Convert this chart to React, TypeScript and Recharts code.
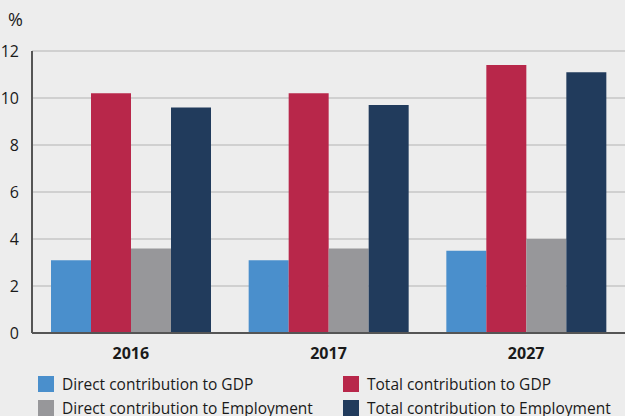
import { BarChart, Bar, XAxis, YAxis, CartesianGrid } from "recharts";

const years = ["2016", "2017", "2027"];
const directGdp = [3.1, 3.1, 3.5];
const totalGdp = [10.2, 10.2, 11.4];
const directEmp = [3.6, 3.6, 4.0];
const totalEmp = [9.6, 9.7, 11.1];
const yTicks = [0, 2, 4, 6, 8, 10, 12];

const series = [
	{ key: "directGdp", name: "Direct contribution to GDP", color: "#4a8fcc" },
	{ key: "totalGdp", name: "Total contribution to GDP", color: "#b8274a" },
	{ key: "directEmp", name: "Direct contribution to Employment", color: "#97979a" },
	{ key: "totalEmp", name: "Total contribution to Employment", color: "#213b5c" },
];

const data = years.map((year, i) => ({
	year,
	directGdp: directGdp[i],
	totalGdp: totalGdp[i],
	directEmp: directEmp[i],
	totalEmp: totalEmp[i],
}));

const font = "'Open Sans', 'Noto Sans', sans-serif";

export default function App() {
	return (
		<div
			style={{
				position: "absolute",
				left: 0,
				top: 0,
				width: 625,
				height: 416,
				background: "#ededed",
				fontFamily: font,
				overflow: "hidden",
			}}
		>
			<div style={{ position: "absolute", left: 8, top: 7, fontSize: 18, color: "#1a1a1a" }}>%</div>
			<BarChart
				width={625}
				height={416}
				data={data}
				margin={{ top: 51, right: 0, left: 0, bottom: 52 }}
				barCategoryGap={19}
				barGap={0}
			>
				<CartesianGrid vertical={false} stroke="#c6c6c6" strokeWidth={1.5} />
				<XAxis
					dataKey="year"
					axisLine={{ stroke: "#555", strokeWidth: 2 }}
					tickLine={false}
					height={31}
					tickMargin={9}
					tick={{ fill: "#1a1a1a", fontSize: 16, fontWeight: 700, fontFamily: font }}
				/>
				<YAxis
					domain={[0, 12]}
					ticks={yTicks}
					width={32}
					axisLine={{ stroke: "#555", strokeWidth: 2 }}
					tickLine={false}
					tickMargin={7}
					tick={{ fill: "#1a1a1a", fontSize: 16, fontFamily: font }}
				/>
				{series.map((s) => (
					<Bar key={s.key} dataKey={s.key} name={s.name} fill={s.color} isAnimationActive={false} />
				))}
			</BarChart>
			{series.map((s, idx) => {
				const col = idx % 2;
				const row = idx < 2 ? 0 : 1;
				return (
					<div
						key={s.key}
						style={{
							position: "absolute",
							left: col === 0 ? 38 : 343,
							top: row === 0 ? 374 : 398,
							display: "flex",
							alignItems: "center",
							fontSize: 15.5,
							lineHeight: "20px",
							color: "#1a1a1a",
							whiteSpace: "nowrap",
						}}
					>
						<span style={{ width: 16, height: 16, background: s.color, marginRight: 8, display: "inline-block" }} />
						{s.name}
					</div>
				);
			})}
		</div>
	);
}
